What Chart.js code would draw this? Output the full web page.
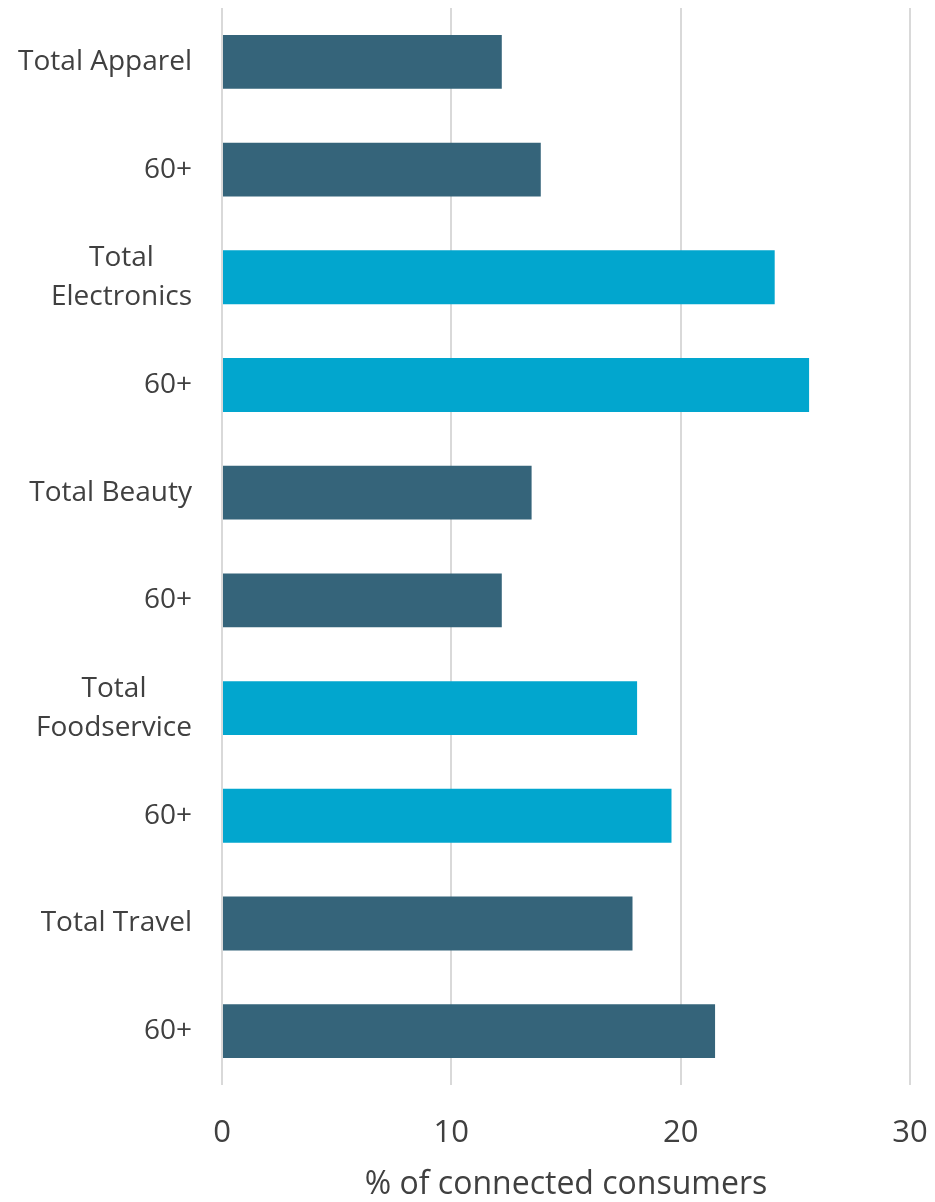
<!DOCTYPE html>
<html>
<head>
<meta charset="utf-8">
<script src="https://cdn.jsdelivr.net/npm/chart.js@4/dist/chart.umd.min.js"></script>
<style>
  html, body { margin: 0; padding: 0; background: #ffffff; }
  canvas { display: block; }
</style>
</head>
<body>
<canvas id="chart" width="935" height="1202"></canvas>
<script>
// Category labels (multi-line entries are arrays)
const categories = [
  'Total Apparel', '60+',
  ['Total', 'Electronics'], '60+',
  'Total Beauty', '60+',
  ['Total', 'Foodservice'], '60+',
  'Total Travel', '60+'
];
// Share of connected consumers, %
const values = [12.2, 13.9, 24.1, 25.6, 13.5, 12.2, 18.1, 19.6, 17.9, 21.5];
// Colour group per category
const groups = ['apparel', 'apparel', 'electronics', 'electronics', 'beauty', 'beauty',
                'foodservice', 'foodservice', 'travel', 'travel'];
const xTicks = [0, 10, 20, 30];
const axisTitle = '% of connected consumers';

const DARK = '#35647A';
const LIGHT = '#02A6CE';
const groupColors = {
  apparel: DARK, electronics: LIGHT, beauty: DARK, foodservice: LIGHT, travel: DARK
};
const TEXT = '#404040';
const FONT = "'Open Sans', sans-serif";

// Draws the category labels: single lines right-aligned,
// multi-line labels centred on their widest line.
const categoryLabels = {
  id: 'categoryLabels',
  afterDraw(chart) {
    const { ctx } = chart;
    const y = chart.scales.y;
    const rightEdge = y.right - 30;
    const lineH = 39;
    ctx.save();
    ctx.font = "28px " + FONT;
    ctx.fillStyle = TEXT;
    ctx.textBaseline = 'middle';
    categories.forEach((lab, i) => {
      const cy = y.getPixelForTick(i);
      const lines = Array.isArray(lab) ? lab : [lab];
      const maxW = Math.max(...lines.map(l => ctx.measureText(l).width));
      const start = cy - (lines.length - 1) * lineH / 2;
      lines.forEach((line, k) => {
        if (lines.length > 1) {
          ctx.textAlign = 'center';
          ctx.fillText(line, rightEdge - maxW / 2, start + k * lineH);
        } else {
          ctx.textAlign = 'right';
          ctx.fillText(line, rightEdge, start + k * lineH);
        }
      });
    });
    ctx.restore();
  }
};

new Chart(document.getElementById('chart'), {
  type: 'bar',
  data: {
    labels: categories,
    datasets: [{
      data: values,
      backgroundColor: groups.map(g => groupColors[g]),
      borderWidth: 0,
      categoryPercentage: 1.0,
      barPercentage: 0.5
    }]
  },
  options: {
    indexAxis: 'y',
    responsive: false,
    animation: false,
    layout: { padding: { top: 8, right: 0, left: 0, bottom: 0 } },
    plugins: {
      legend: { display: false },
      tooltip: { enabled: false }
    },
    scales: {
      x: {
        min: 0,
        max: 30,
        afterBuildTicks(scale) {
          scale.ticks = xTicks.map(v => ({ value: v }));
        },
        afterFit(scale) {
          scale.height = 117;
          scale.paddingLeft = 0;
          scale.paddingRight = 25;
        },
        grid: { color: '#d9d9d9', lineWidth: 2, drawTicks: false },
        border: { display: false },
        ticks: {
          color: TEXT,
          font: { family: FONT, size: 31 },
          padding: 30
        },
        title: {
          display: true,
          text: axisTitle,
          color: TEXT,
          font: { family: FONT, size: 32, lineHeight: 1.0 },
          padding: { top: 0, bottom: 1 }
        }
      },
      y: {
        afterFit(scale) { scale.width = 222; },
        grid: { display: false },
        border: { display: false },
        ticks: { color: 'rgba(0,0,0,0)', font: { family: FONT, size: 1 } }
      }
    }
  },
  plugins: [categoryLabels]
});
</script>
</body>
</html>
